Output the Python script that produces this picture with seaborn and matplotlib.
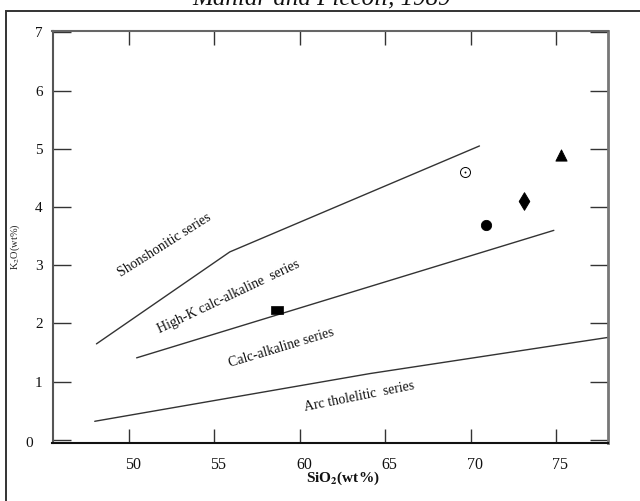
import matplotlib
matplotlib.use("Agg")
import matplotlib.pyplot as plt
import matplotlib.patches as mpatches
import matplotlib.transforms as mtransforms
import numpy as np
import pandas as pd
import seaborn as sns

# Series boundary lines (SiO2 wt%, K2O wt%)
shoshonitic_x = [48.1, 55.9, 70.5]
shoshonitic_y = [1.65, 3.23, 5.05]
highk_x = [50.45, 74.85]
highk_y = [1.41, 3.60]
tholeiitic_x = [48.0, 64.1, 78.0]
tholeiitic_y = [0.32, 1.14, 1.76]

# Sample points
sq_x, sq_y = [58.66], [2.23]
open_x, open_y = [69.68], [4.61]
dot_x, dot_y = [70.87], [3.69]
dia_x, dia_y = [73.11], [4.11]
tri_x, tri_y = [75.25], [4.90]

# Field names: text, x, y, rotation
field_names = ["Shonshonitic series", "High-K calc-alkaline  series",
               "Calc-alkaline series", "Arc tholelitic  series"]
field_x = [52.1, 55.85, 58.9, 63.5]
field_y = [3.35, 2.46, 1.58, 0.74]
field_rot = [32.4, 25.3, 16.8, 11.3]

x_ticks = [50, 55, 60, 65, 70, 75]
y_ticks = [0, 1, 2, 3, 4, 5, 6, 7]

sns.set_theme(style="white")
plt.rcParams["font.family"] = ["Liberation Serif", "DejaVu Serif"]
plt.rcParams["mathtext.fontset"] = "stix"

fig = plt.figure(figsize=(6.4, 5.01), dpi=100)
ax = fig.add_axes([52.5 / 640, 1 - 443 / 501, 555.2 / 640, 412.3 / 501])

line_kw = dict(color="#333333", linewidth=1.0, sort=False, estimator=None, ax=ax, legend=False)
for xs, ys in [(shoshonitic_x, shoshonitic_y), (highk_x, highk_y), (tholeiitic_x, tholeiitic_y)]:
    sns.lineplot(data=pd.DataFrame({"x": xs, "y": ys}), x="x", y="y", **line_kw)

# a flat rectangle marker (wider than tall)
rect_marker = [(-1.4, -1.0), (1.4, -1.0), (1.4, 1.0), (-1.4, 1.0), (-1.4, -1.0)]
sns.scatterplot(x=sq_x, y=sq_y, marker=rect_marker, s=75, color="black", edgecolor="black",
                linewidth=0.5, ax=ax, zorder=5)
sns.scatterplot(x=open_x, y=open_y, marker="o", s=52, facecolor="white", edgecolor="black",
                linewidth=0.7, ax=ax, zorder=5)
sns.scatterplot(x=open_x, y=open_y, marker="o", s=1.5, color="black", edgecolor="black", ax=ax, zorder=6)
sns.scatterplot(x=dot_x, y=dot_y, marker="o", s=55, color="black", edgecolor="black", ax=ax, zorder=5)
sns.scatterplot(x=dia_x, y=dia_y, marker="d", s=80, color="black", edgecolor="black", ax=ax, zorder=5)
sns.scatterplot(x=tri_x, y=tri_y, marker="^", s=65, color="black", edgecolor="black", ax=ax, zorder=5)

for name, fx, fy, rot in zip(field_names, field_x, field_y, field_rot):
    ax.text(fx, fy, name, rotation=rot, rotation_mode="anchor", ha="center", va="center",
            fontsize=10, color="#111111")

ax.set_xlim(45.53, 78.0)
ax.set_ylim(-0.053, 7.03)
ax.set_xticks(x_ticks)
ax.set_yticks(y_ticks)
ax.set_xticklabels([str(v) for v in x_ticks])
ax.set_yticklabels([str(v) for v in y_ticks])

ax.tick_params(axis="x", which="both", direction="in", length=10, width=1.0, color="#333333",
               top=True, bottom=True, labelsize=11.5, pad=10, labelcolor="#111111")
ax.tick_params(axis="y", which="both", direction="in", length=13, width=1.0, color="#333333",
               left=True, right=True, labelsize=11, pad=7, labelcolor="#111111")
offset = mtransforms.ScaledTranslation(4 / 100, 0, fig.dpi_scale_trans)
for lab in ax.get_xticklabels():
    lab.set_transform(lab.get_transform() + offset)
zero_lab = ax.get_yticklabels()[0]
zero_lab.set_transform(zero_lab.get_transform()
                       + mtransforms.ScaledTranslation(-10 / 100, -2 / 100, fig.dpi_scale_trans))

for side, col, lw in [("left", "#555555", 1.5), ("bottom", "#111111", 1.5),
                      ("top", "#666666", 1.5), ("right", "#777777", 2.0)]:
    ax.spines[side].set_visible(True)
    ax.spines[side].set_color(col)
    ax.spines[side].set_linewidth(lw)

ax.set_xlabel(r"SiO$_\mathbf{2}$(wt%)", fontsize=11, fontweight="bold", color="#111111")
ax.xaxis.set_label_coords((342.6 - 52.5) / 555.2, -(478 - 443) / 412.3)
ax.xaxis.label.set_va("center")
ax.set_ylabel(r"K$_2$O(wt%)", fontsize=7.5, color="#222222")
ax.yaxis.set_label_coords((15 - 52.5) / 555.2, (443 - 247) / 412.3)
ax.yaxis.label.set_va("center")

# Outer frame and reference caption
fig.add_artist(mpatches.Rectangle((5.5 / 640, -0.1), 1.2, 1 - 11 / 501 + 0.1,
                                  transform=fig.transFigure, fill=False,
                                  edgecolor="#333333", linewidth=1.4))
fig.text(322 / 640, 1 - 4 / 501, "Maniar and Piccoli, 1989", ha="center", va="baseline",
         fontsize=18, style="italic", color="#111111")

fig.savefig("out.png", dpi=100)
